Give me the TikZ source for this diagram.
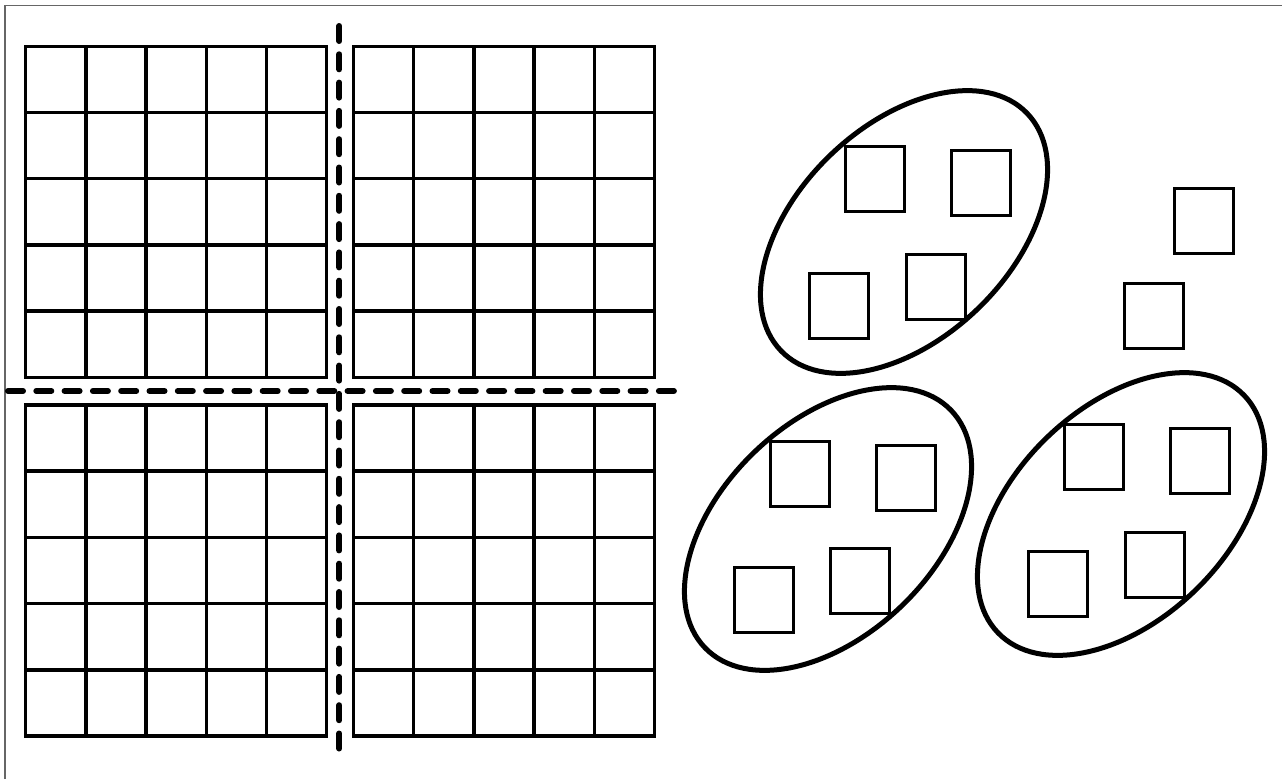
\documentclass[tikz,border=0pt]{standalone}
\usetikzlibrary{shapes.geometric}
\tikzset{
  gridline/.style={line width=3.5pt, draw=black},
  divider/.style={line width=6pt, line cap=round, dash pattern=on 15pt off 13.3pt, draw=black},
  clusterring/.style={draw=black, ellipse, line width=5pt, minimum width=342pt, minimum height=213pt, inner sep=0pt, rotate=44},
  tile/.style={draw=black, rectangle, line width=3pt, minimum width=59pt, minimum height=65pt, inner sep=0pt},
  frameline/.style={line width=1.2pt, draw=black!60}
}
\newcommand\cellgrid[2]{%
  \draw[gridline] (#1,#2) rectangle ++(301,331);
  \foreach \i in {1,...,4} {
    \draw[gridline] (#1+\i*60.2,#2) -- ++(0,331);
    \draw[gridline] (#1,#2+\i*66.2) -- ++(301,0);
  }
}
\begin{document}
\begin{tikzpicture}[x=1pt,y=-1pt]
  \useasboundingbox (0,0) rectangle (1282,779);
  % frame (top and left edges)
  \coordinate (fbl) at (5,779);
  \coordinate (ftl) at (5,5.5);
  \coordinate (ftr) at (1282,5.5);
  \draw[frameline] (fbl) -- (ftl) -- (ftr);

  % four grids
  \cellgrid{25.7}{46.3}
  \cellgrid{353.5}{46.3}
  \cellgrid{25.7}{405}
  \cellgrid{353.5}{405}

  % dashed dividers
  \coordinate (vt) at (339.3,26);
  \coordinate (vb) at (339.3,750);
  \coordinate (hl) at (8,391);
  \coordinate (hr) at (675,391);
  \draw[divider] (vt) -- (vb);
  \draw[divider] (hl) -- (hr);

  % clusters
  \node[clusterring] (e1) at (904,232) {};
  \node[clusterring] (e2) at (828,529) {};
  \node[clusterring] (e3) at (1121,514) {};

  % tiles in top cluster
  \node[tile] (t1) at (875,178.5) {};
  \node[tile] (t2) at (981,183) {};
  \node[tile] (t3) at (839,305.5) {};
  \node[tile] (t4) at (935.5,287) {};
  % loose tiles
  \node[tile] (l1) at (1203.5,221) {};
  \node[tile] (l2) at (1153.5,315.5) {};
  % bottom-left cluster
  \node[tile] (b1) at (799.5,474) {};
  \node[tile] (b2) at (905.5,478) {};
  \node[tile] (b3) at (763.5,600) {};
  \node[tile] (b4) at (859.5,581) {};
  % bottom-right cluster
  \node[tile] (c1) at (1093.5,456.5) {};
  \node[tile] (c2) at (1199.5,461) {};
  \node[tile] (c3) at (1057.5,584) {};
  \node[tile] (c4) at (1154.5,565) {};
\end{tikzpicture}
\end{document}
